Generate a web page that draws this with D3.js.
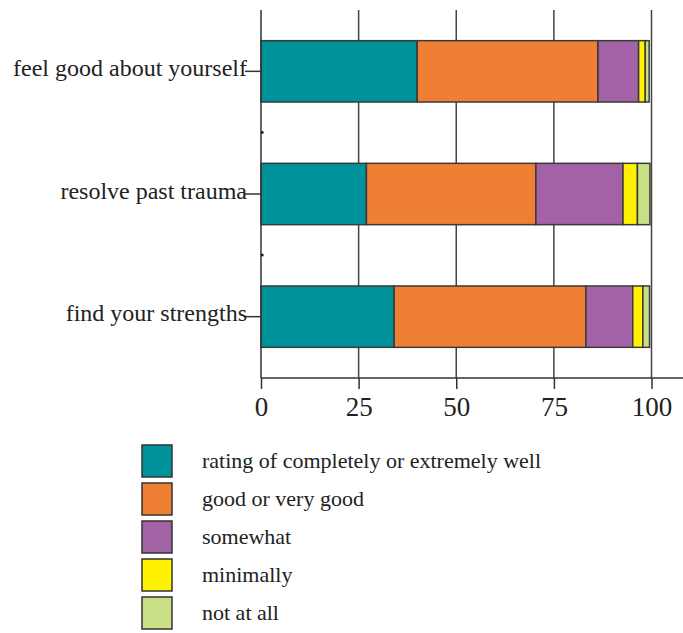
<!DOCTYPE html>
<html><head><meta charset="utf-8">
<script src="https://cdn.jsdelivr.net/npm/d3@7"></script>
<style>body{margin:0;background:#fff}svg{display:block}text{font-family:"Liberation Serif","DejaVu Serif",serif;fill:#222}</style>
</head><body><svg id="c" width="683" height="633"></svg>
<script>
const categories = ["feel good about yourself", "resolve past trauma", "find your strengths"];
const seriesNames = ["rating of completely or extremely well", "good or very good", "somewhat", "minimally", "not at all"];
const completely = [40.0, 27.0, 34.1];
const good = [46.3, 43.4, 49.1];
const somewhat = [10.4, 22.3, 12.0];
const minimally = [1.7, 3.7, 2.6];
const notAtAll = [1.0, 3.2, 1.7];
const xTicks = [0, 25, 50, 75, 100];
const colors = ["#00929b", "#ef7f32", "#a462a6", "#fff200", "#c9e086"];

const seriesVals = [completely, good, somewhat, minimally, notAtAll];
const rows = categories.map((c, i) => {
  const r = {cat: c};
  seriesNames.forEach((s, j) => r[s] = seriesVals[j][i]);
  return r;
});
const stack = d3.stack().keys(seriesNames)(rows);

const svg = d3.select("#c");
const x = d3.scaleLinear().domain([0, 100]).range([261, 651.5]);
const y = d3.scaleBand().domain(categories).range([10, 378]).paddingInner(0.5).paddingOuter(0.25);

// gridlines
svg.append("g").selectAll("line").data(xTicks.slice(1)).join("line")
  .attr("x1", d => x(d)).attr("x2", d => x(d)).attr("y1", 10).attr("y2", 378)
  .attr("stroke", "#444").attr("stroke-width", 1.5);

// bars
svg.append("g").selectAll("g").data(stack).join("g")
  .attr("fill", (d, i) => colors[i])
  .selectAll("rect").data(d => d).join("rect")
  .attr("x", d => x(d[0])).attr("width", d => x(d[1]) - x(d[0]))
  .attr("y", d => y(d.data.cat)).attr("height", y.bandwidth())
  .attr("stroke", "#3a3a3a").attr("stroke-width", 1.5);

// y axis
const yAxis = svg.append("g").attr("transform", "translate(261,0)")
  .call(d3.axisLeft(y).tickSize(16).tickPadding(0));
yAxis.select(".domain").remove();
yAxis.selectAll(".tick line").attr("stroke", "#333").attr("stroke-width", 1.5);
yAxis.selectAll(".tick text").attr("font-size", 24).attr("fill", "#222")
  .attr("font-family", "Liberation Serif").attr("x", -14).attr("dy", "0.2em");
svg.append("line").attr("x1", 261).attr("x2", 261).attr("y1", 10).attr("y2", 378)
  .attr("stroke", "#333").attr("stroke-width", 1.5);
// small marks between bands
const bounds = [categories[1], categories[2]].map(c => y(c) - y.step() * y.paddingInner() / 2);
svg.append("g").selectAll("rect").data(bounds).join("rect")
  .attr("x", 261).attr("y", d => d - 1.5).attr("width", 2.5).attr("height", 2.5).attr("fill", "#111");

// x axis
const xAxis = svg.append("g").attr("transform", "translate(0,378)")
  .call(d3.axisBottom(x).tickValues(xTicks).tickSize(11).tickPadding(8).tickFormat(d3.format("d")));
xAxis.select(".domain").remove();
xAxis.selectAll(".tick line").attr("stroke", "#333").attr("stroke-width", 1.5);
xAxis.selectAll(".tick text").attr("font-size", 27).attr("fill", "#222").attr("font-family", "Liberation Serif");
svg.append("line").attr("x1", 261).attr("x2", 683).attr("y1", 378).attr("y2", 378)
  .attr("stroke", "#333").attr("stroke-width", 1.5);

// legend
const lg = svg.append("g").selectAll("g").data(seriesNames).join("g")
  .attr("transform", (d, i) => `translate(142,${445 + i * 38})`);
lg.append("rect").attr("width", 30).attr("height", 32)
  .attr("fill", (d, i) => colors[i]).attr("stroke", "#333").attr("stroke-width", 1.5);
lg.append("text").attr("x", 60).attr("y", 23).attr("font-size", 22).text(d => d);
</script></body></html>
